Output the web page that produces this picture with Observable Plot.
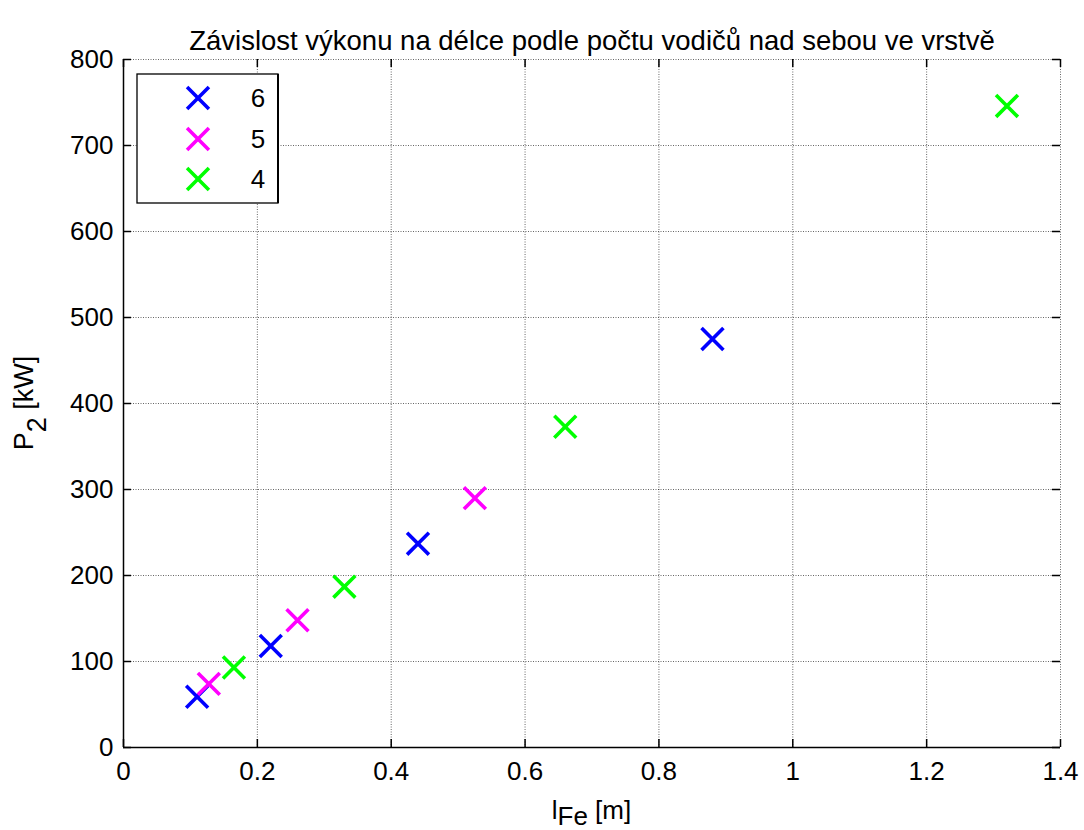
<!DOCTYPE html>
<html><head><meta charset="utf-8">
<script src="https://cdn.jsdelivr.net/npm/d3@7"></script>
<script src="https://cdn.jsdelivr.net/npm/@observablehq/plot@0.6"></script>
<style>
body{margin:0;background:#fff;}
#chart{position:relative;width:1084px;height:830px;}
</style>
</head><body><div id="chart"></div>
<script>
// ---- data ----
const seriesNames = ["6", "5", "4"];
const seriesColors = ["#0000ff", "#ff00ff", "#00ff00"];
const lengths6 = [0.11, 0.22, 0.44, 0.88];
const power6   = [59, 118, 237, 475];
const lengths5 = [0.1275, 0.26, 0.525];
const power5   = [74, 148, 290];
const lengths4 = [0.165, 0.33, 0.66, 1.32];
const power4   = [93, 187, 373, 746];
const xTicks = [0, 0.2, 0.4, 0.6, 0.8, 1, 1.2, 1.4];
const xTickLabels = ["0", "0.2", "0.4", "0.6", "0.8", "1", "1.2", "1.4"];
const yTicks = [0, 100, 200, 300, 400, 500, 600, 700, 800];
const titleText = "Závislost výkonu na délce podle počtu vodičů nad sebou ve vrstvě";
const xLabelMain = "l", xLabelSub = "Fe", xLabelUnit = " [m]";
const yLabelMain = "P", yLabelSub = "2", yLabelUnit = " [kW]";

const seriesLengths = [lengths6, lengths5, lengths4];
const seriesPowers = [power6, power5, power4];
const points = [];
seriesNames.forEach((s, k) => seriesLengths[k].forEach((x, i) => points.push({series: s, x, y: seriesPowers[k][i]})));

// ---- layout ----
const W = 1084, H = 830, mL = 123, mR = 24, mT = 59, mB = 83;
const font = "'Liberation Sans', Arial, Helvetica, sans-serif";
const innerW = W - mL - mR, innerH = H - mT - mB;
const tickLen = 8;
const gridStyle = {stroke: "#000", strokeOpacity: 0.6, strokeWidth: 1, strokeDasharray: "1,1.5"};

const plot = Plot.plot({
  width: W, height: H,
  marginLeft: mL, marginRight: mR, marginTop: mT, marginBottom: mB,
  style: {fontFamily: font, background: "#fff", color: "#000", overflow: "visible"},
  x: {domain: [0, 1.4]},
  y: {domain: [0, 800]},
  color: {domain: seriesNames, range: seriesColors},
  marks: [
    Plot.gridX(xTicks.slice(1), gridStyle),
    Plot.gridY(yTicks.slice(1), gridStyle),
    // inward tick marks on all four sides
    Plot.tickX(xTicks, {x: d => d, insetTop: innerH - tickLen, stroke: "#000", strokeWidth: 1.5}),
    Plot.tickX(xTicks, {x: d => d, insetBottom: innerH - tickLen, stroke: "#000", strokeWidth: 1.5}),
    Plot.tickY(yTicks, {y: d => d, insetRight: innerW - tickLen, stroke: "#000", strokeWidth: 1.5}),
    Plot.tickY(yTicks, {y: d => d, insetLeft: innerW - tickLen, stroke: "#000", strokeWidth: 1.5}),
    Plot.axisX(xTicks, {tickSize: 0, tickPadding: 14, fontSize: 26, label: null,
      tickFormat: d => xTickLabels[xTicks.indexOf(d)]}),
    Plot.axisY(yTicks, {tickSize: 0, tickPadding: 10, fontSize: 26, label: null}),
    Plot.ruleX([0], {stroke: "#000", strokeWidth: 1.5}),
    Plot.ruleY([0], {stroke: "#000", strokeWidth: 1.5}),
    Plot.dot(points, {x: "x", y: "y", stroke: "series", symbol: "times", r: 10, strokeWidth: 3.6}),
    Plot.text([titleText], {frameAnchor: "top", dy: -29, fontSize: 27.5, fill: "#000"})
  ]
});

const svg = d3.select(plot);

// x label with subscript
const xl = svg.append("text")
  .attr("x", mL + innerW / 2).attr("y", 819)
  .attr("text-anchor", "middle").attr("font-size", 26).attr("fill", "#000")
  .attr("font-family", font);
xl.append("tspan").text(xLabelMain);
xl.append("tspan").attr("dy", 6).text(xLabelSub);
xl.append("tspan").attr("dy", -6).text(xLabelUnit);

// y label with subscript
const yl = svg.append("text")
  .attr("transform", `translate(33,${mT + innerH / 2}) rotate(-90)`)
  .attr("text-anchor", "middle").attr("font-size", 27).attr("fill", "#000")
  .attr("font-family", font);
yl.append("tspan").text(yLabelMain);
yl.append("tspan").attr("dy", 13).text(yLabelSub);
yl.append("tspan").attr("dy", -13).text(yLabelUnit);

// legend
const lg = svg.append("g");
lg.append("rect").attr("x", 137).attr("y", 74).attr("width", 141).attr("height", 129)
  .attr("fill", "#fff").attr("stroke", "#000").attr("stroke-width", 1.3);
lg.append("line").attr("x1", 278).attr("x2", 278).attr("y1", 74).attr("y2", 203)
  .attr("stroke", "#000").attr("stroke-width", 2);
const sym = d3.symbol(d3.symbolTimes, Math.PI * 100);
const rowY = [98, 139, 179];
seriesNames.forEach((s, i) => {
  lg.append("path").attr("d", sym()).attr("transform", `translate(198,${rowY[i]})`)
    .attr("fill", "none").attr("stroke", seriesColors[i]).attr("stroke-width", 3.6);
  lg.append("text").attr("x", 258).attr("y", rowY[i]).attr("dy", "0.35em")
    .attr("text-anchor", "middle").attr("font-size", 26).attr("fill", "#000")
    .attr("font-family", font).text(s);
});

document.getElementById("chart").appendChild(plot);
</script>
</body></html>
